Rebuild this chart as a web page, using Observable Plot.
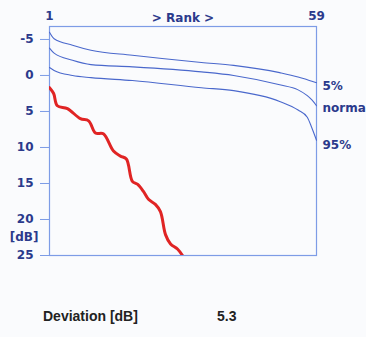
<!DOCTYPE html>
<html>
<head>
<meta charset="utf-8">
<script src="https://cdn.jsdelivr.net/npm/d3@7"></script>
<script src="https://cdn.jsdelivr.net/npm/@observablehq/plot@0.6"></script>
<style>
  html, body { margin: 0; padding: 0; background: #fafbfd; }
  #wrap { position: relative; width: 366px; height: 337px; overflow: hidden; font-family: "Liberation Sans", Arial, sans-serif; }
  #chart { position: absolute; left: 0; top: 0; }
  .cap { position: absolute; top: 308px; font-weight: bold; font-size: 14px; line-height: 16px; color: #222; }
</style>
</head>
<body>
<div id="wrap">
  <div id="chart"></div>
  <div class="cap" style="left:43px">Deviation [dB]</div>
  <div class="cap" style="left:217px">5.3</div>
</div>
<script>
// Reference band: rank positions and dB values for the three blue curves
const bandRanks = [1, 2, 6, 10, 19, 34, 41, 51, 55, 57, 58, 59];
const p5Values   = [-6.0, -5.1, -4.2, -3.5, -2.8, -1.8, -1.4, -0.4, 0.2, 0.6, 0.8, 1.0];
const normValues = [-3.8, -3.1, -2.1, -1.5, -1.2, -0.5, 0.0, 1.3, 2.0, 2.8, 3.4, 4.2];
const p95Values  = [-1.1, -0.7, 0.0, 0.3, 0.7, 1.7, 2.1, 3.6, 4.8, 5.8, 7.3, 9.0];

// Patient curve (red)
const patientRanks  = [1, 1.9, 2.7, 4.9, 7.7, 9.5, 11, 12.7, 14.9, 16.4, 17.7, 19, 20.1, 21.4, 22.5, 24, 25.1, 26.2, 27.3, 28.8, 29.9];
const patientValues = [1.7, 2.5, 4.2, 4.6, 6.0, 6.3, 8.0, 8.1, 10.5, 11.2, 11.6, 14.7, 15.1, 16.1, 17.2, 17.9, 18.9, 22.1, 23.4, 24.1, 25.0];

const seriesLabels = ["5%", "norma", "95%"];
const seriesLabelY = [1.5, 4.6, 9.7];
const yTicks = [-5, 0, 5, 10, 15, 20, 25];
const xTicks = [1, 59];

const navy = "#2b3a8c";
const lineBlue = "#4a68cc";
const frameBlue = "#7d9ce6";
const chartFont = "'DejaVu Sans', 'Liberation Sans', Arial, sans-serif";

const band = [p5Values, normValues, p95Values].map((vals, i) =>
  bandRanks.map((r, j) => ({rank: r, db: vals[j], s: seriesLabels[i]})));
const patient = patientRanks.map((r, j) => ({rank: r, db: patientValues[j]}));

const chart = Plot.plot({
  width: 366,
  height: 270,
  marginLeft: 49,
  marginRight: 50,
  marginTop: 26,
  marginBottom: 15,
  style: {background: "transparent", fontFamily: chartFont, fontWeight: "bold", fontSize: "12px", color: navy},
  x: {domain: [1, 59]},
  y: {domain: [-6.8, 25], reverse: true},
  marks: [
    Plot.frame({stroke: frameBlue, strokeWidth: 1.2}),
    ...band.map(d => Plot.line(d, {x: "rank", y: "db", stroke: lineBlue, strokeWidth: 1.1, curve: "monotone-x"})),
    Plot.line(patient, {x: "rank", y: "db", stroke: "#e02424", strokeWidth: 3, curve: "catmull-rom", clip: true}),
    Plot.axisY({ticks: yTicks, tickSize: 9, tickPadding: 7, stroke: frameBlue, fill: navy, label: null, tickFormat: d => String(d)}),
    Plot.axisX({anchor: "top", ticks: xTicks, tickSize: 0, tickPadding: 7, fill: navy, label: null}),
    Plot.text(["> Rank >"], {frameAnchor: "top", dy: -13, fill: navy, fontWeight: "bold", fontSize: 12}),
    Plot.text(["[dB]"], {frameAnchor: "left", y: () => 22.5, dx: -11, textAnchor: "end", fill: navy, fontWeight: "bold", fontSize: 12}),
    Plot.text(seriesLabels, {x: () => 59, y: (d, i) => seriesLabelY[i], dx: 6, textAnchor: "start", fill: navy, fontWeight: "bold", fontSize: 12})
  ]
});
document.getElementById("chart").appendChild(chart);
</script>
</body>
</html>
